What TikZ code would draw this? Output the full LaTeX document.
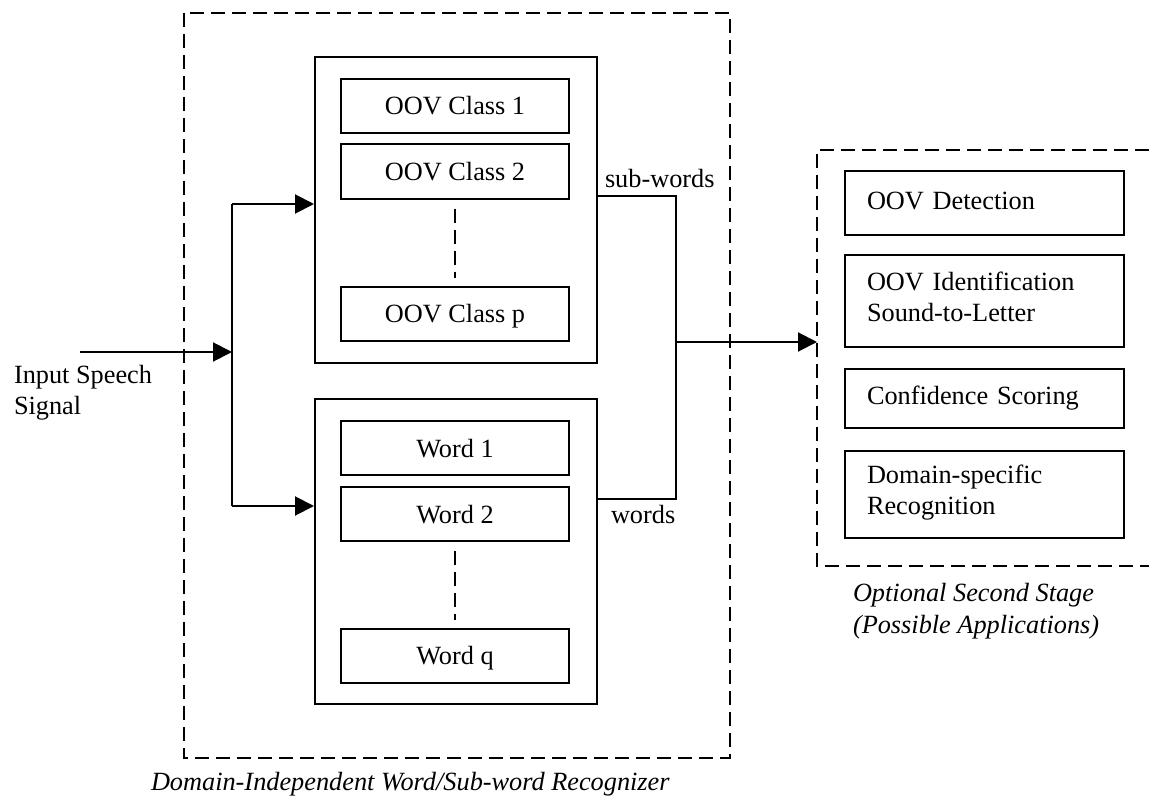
\documentclass[tikz,border=0pt]{standalone}
\usepackage{fontspec}
\setmainfont{Liberation Serif}
\usetikzlibrary{arrows.meta}

\newcommand\figfont{\fontsize{26.3pt}{31pt}\selectfont}

\begin{document}
\begin{tikzpicture}[x=1pt,y=-1pt,line width=2pt,font=\figfont,
        flow/.style={-{Triangle[length=19pt,width=19pt]}},
        dashline/.style={dash pattern=on 14pt off 7pt}]
            \useasboundingbox (0,0) rectangle (1149,797);

            % dashed frames
            \draw [dashline] (184,13) rectangle (730,758);
            \draw [dashline] (1149,150) -- (817,150) -- (817,566) -- (1149,566);

            \begin{scope}[every node/.style={draw,minimum width=282pt}]
                \node [minimum height=306pt] (subrec) at (456,210) {};
                \node [minimum height=305pt] (wordrec) at (456,551.5) {};
            \end{scope}

            \begin{scope}[every node/.style={draw,minimum width=228pt,minimum height=54pt,text height=18pt,text depth=0pt}]
                \node (oov1) at (455,106) {OOV Class 1};
                \node (oov2) at (455,171.5) {OOV Class 2};
                \node (oovp) at (455,313.5) {OOV Class p};
                \node (word1) at (455,448) {Word 1};
                \node (word2) at (455,514) {Word 2};
                \node (wordq) at (455,655.5) {Word q};
            \end{scope}

            \begin{scope}[every node/.style={draw,text width=235pt,inner xsep=22pt,align=left,execute at end node=\strut}]
                \node [minimum height=64pt] (detect) at (984.5,203) {OOV Detection};
                \node [minimum height=92pt] (ident) at (984.5,301) {OOV Identification\\Sound-to-Letter};
                \node [minimum height=59pt] (conf) at (984.5,398.5) {Confidence Scoring};
                \node [minimum height=87pt] (domain) at (984.5,494.5) {Domain-specific\\Recognition};
            \end{scope}

            \begin{scope}[every node/.style={inner sep=0pt}]
                \node [anchor=north west,align=left] (input) at (13,364) {Input Speech\\Signal};
                \node [anchor=base west] (subwords) at (604,187) {sub-words};
                \node [anchor=base west] (words) at (610,523) {words};
                \node [anchor=north west,align=left,font=\fontsize{26.3pt}{32pt}\selectfont\itshape] (stagecap) at (852,582) {Optional Second Stage\\(Possible Applications)};
                \node [anchor=base west,font=\figfont\itshape] (reccap) at (150,790) {Domain-Independent Word/Sub-word Recognizer};
            \end{scope}

            \coordinate (src) at (80,352);
            \coordinate (fork) at (232,352);
            \coordinate (forkup) at (232,204);
            \coordinate (forkdn) at (232,506);
            \coordinate (join) at (676,342);
            \coordinate (joinup) at (676,196);
            \coordinate (joindn) at (676,499);
            \coordinate (stagein) at (817,342);

            \begin{scope}
                \path [dashline,line width=1.5pt,shorten <=9pt,shorten >=8pt] (oov2) edge (oovp) (word2) edge (wordq);
                \draw (forkup) -- (forkdn);
                \path [flow] (src) edge (fork);
                \path [flow] (forkup) edge (forkup -| subrec.west);
                \path [flow] (forkdn) edge (forkdn -| wordrec.west);
                \draw (joinup -| subrec.east) -- (joinup) -- (joindn) -- (joindn -| wordrec.east);
                \path [flow] (join) edge (stagein);
            \end{scope}
\end{tikzpicture}
\end{document}
